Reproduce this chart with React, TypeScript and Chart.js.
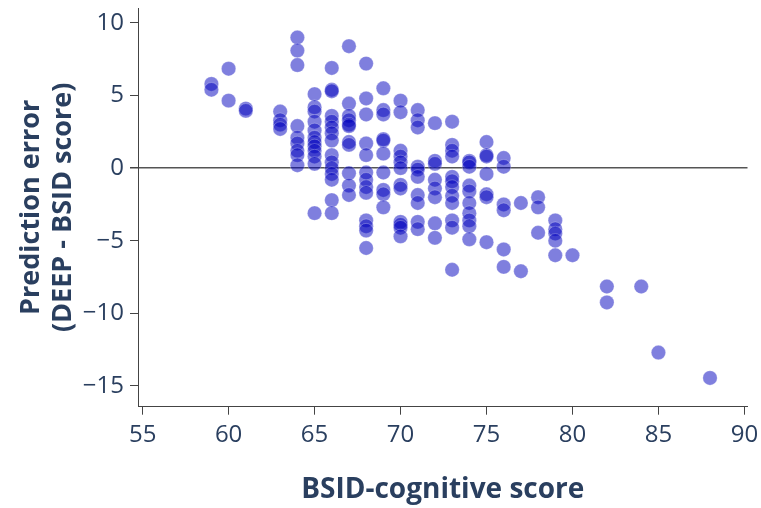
import React, { useEffect, useRef } from "react";
import { Chart, registerables } from "chart.js";

Chart.register(...registerables);

// BSID-cognitive score (x) and prediction error (y), one entry per point
const bsidScores: number[] = [
  59, 59,
  60, 60,
  61, 61,
  63, 63, 63, 63,
  64, 64, 64, 64, 64, 64, 64, 64, 64,
  65, 65, 65, 65, 65, 65, 65, 65, 65, 65, 65, 65,
  66, 66, 66, 66, 66, 66, 66, 66, 66, 66, 66, 66, 66, 66, 66,
  67, 67, 67, 67, 67, 67, 67, 67, 67, 67, 67,
  68, 68, 68, 68, 68, 68, 68, 68, 68, 68, 68, 68, 68,
  69, 69, 69, 69, 69, 69, 69, 69, 69, 69,
  70, 70, 70, 70, 70, 70, 70, 70, 70, 70, 70, 70,
  71, 71, 71, 71, 71, 71, 71, 71, 71, 71,
  72, 72, 72, 72, 72, 72, 72, 72,
  73, 73, 73, 73, 73, 73, 73, 73, 73, 73, 73, 73,
  74, 74, 74, 74, 74, 74, 74, 74, 74, 74,
  75, 75, 75, 75, 75, 75, 75,
  76, 76, 76, 76, 76, 76,
  77, 77,
  78, 78, 78,
  79, 79, 79, 79, 79,
  80,
  82, 82,
  84,
  85,
  88,
];

const predictionErrors: number[] = [
  5.8, 5.4,
  6.85, 4.65,
  4.1, 3.95,
  3.9, 3.3, 3.0, 2.7,
  9.0, 8.1, 7.1, 2.9, 2.1, 1.7, 1.2, 0.9, 0.2,
  5.1, 4.2, 3.9, 3.2, 2.6, 2.1, 1.8, 1.5, 1.2, 0.8, 0.3, -3.1,
  6.9, 5.4, 5.3, 3.6, 3.2, 2.8, 2.4, 1.9, 0.9, 0.4, 0.0, -0.4, -0.8, -2.2, -3.1,
  8.4, 4.45, 3.6, 3.3, 3.0, 2.9, 1.8, 1.6, -0.35, -1.2, -1.85,
  7.2, 4.8, 3.7, 1.7, 0.9, -0.3, -0.8, -1.3, -1.7, -3.6, -4.0, -4.3, -5.5,
  5.5, 4.0, 3.7, 2.0, 1.9, 1.0, -0.3, -1.5, -1.8, -2.7,
  4.65, 3.85, 1.2, 0.8, 0.4, 0.0, -1.15, -1.4, -3.7, -3.9, -4.1, -4.7,
  4.0, 3.3, 2.8, 0.1, -0.1, -0.6, -1.85, -2.4, -3.7, -4.2,
  3.1, 0.5, 0.3, -0.8, -1.4, -2.0, -3.8, -4.8,
  3.2, 1.6, 1.2, 0.8, -0.6, -0.9, -1.3, -1.9, -2.4, -3.6, -4.1, -7.0,
  0.5, 0.4, 0.1, -1.2, -1.6, -2.4, -3.1, -3.6, -4.0, -4.9,
  1.8, 0.9, 0.8, -0.4, -1.8, -2.0, -5.1,
  0.7, 0.1, -2.5, -2.9, -5.6, -6.8,
  -2.4, -7.1,
  -2.0, -2.7, -4.45,
  -3.6, -4.2, -4.5, -5.0, -6.0,
  -6.0,
  -8.15, -9.25,
  -8.15,
  -12.7,
  -14.45,
];

const xTickValues: number[] = [55, 60, 65, 70, 75, 80, 85, 90];
const yTickValues: number[] = [-15, -10, -5, 0, 5, 10];

const xTitle = "BSID-cognitive score";
const yTitle = ["Prediction error", "(DEEP - BSID score)"];

const TEXT_COLOR = "#2a3f5f";
const FONT = "'Open Sans', 'Noto Sans', sans-serif";

export default function App() {
  const canvasRef = useRef<HTMLCanvasElement | null>(null);

  useEffect(() => {
    const canvas = canvasRef.current;
    if (!canvas) return;
    const points = bsidScores.map((x, i) => ({ x, y: predictionErrors[i] }));
    const chart = new Chart(canvas, {
      type: "scatter",
      data: {
        datasets: [
          {
            data: points,
            backgroundColor: "rgba(0, 0, 190, 0.5)",
            borderColor: "rgba(255, 255, 255, 0.5)",
            borderWidth: 0.5,
            pointRadius: 7.2,
            pointHoverRadius: 7.2,
          },
        ],
      },
      options: {
        responsive: false,
        animation: false,
        layout: { padding: { top: 8, right: 13.5, left: 0, bottom: 0 } },
        plugins: {
          legend: { display: false },
          tooltip: { enabled: false },
        },
        scales: {
          x: {
            type: "linear",
            min: 54.73,
            max: 90.18,
            afterBuildTicks: (scale: any) => {
              scale.ticks = xTickValues.map((v) => ({ value: v }));
            },
            afterFit: (scale: any) => {
              scale.height = 101.3;
              scale.paddingLeft = 0;
              scale.paddingRight = 0;
            },
            border: { display: true, color: "#444", width: 1 },
            grid: {
              drawOnChartArea: false,
              drawTicks: true,
              tickLength: 8,
              tickColor: "#444",
            },
            ticks: {
              color: TEXT_COLOR,
              font: { family: FONT, size: 24, lineHeight: 0.7 },
              padding: 12,
              maxRotation: 0,
              autoSkip: false,
            },
            title: {
              display: true,
              text: xTitle,
              color: TEXT_COLOR,
              font: { family: FONT, size: 28, weight: "bold", lineHeight: 1.2 },
              padding: { top: 0, bottom: 1 },
            },
          },
          y: {
            type: "linear",
            min: -16.43,
            max: 11.03,
            afterBuildTicks: (scale: any) => {
              scale.ticks = yTickValues.map((v) => ({ value: v }));
            },
            afterFit: (scale: any) => {
              scale.width = 138;
              scale.paddingTop = 0;
              scale.paddingBottom = 0;
            },
            border: { display: true, color: "#444", width: 1 },
            grid: {
              drawOnChartArea: true,
              drawTicks: true,
              tickLength: 8,
              tickColor: "#444",
              color: (ctx: any) =>
                ctx.tick && ctx.tick.value === 0 ? "#555" : "rgba(0,0,0,0)",
              lineWidth: (ctx: any) => (ctx.tick && ctx.tick.value === 0 ? 1.5 : 1),
            },
            ticks: {
              color: TEXT_COLOR,
              font: { family: FONT, size: 24, lineHeight: 0.6 },
              padding: 6,
              autoSkip: false,
              callback: (v: any) => (Number(v) < 0 ? "\u2212" + Math.abs(Number(v)) : String(v)),
            },
            title: {
              display: true,
              text: yTitle,
              color: TEXT_COLOR,
              font: { family: FONT, size: 27, weight: "bold", lineHeight: 1.2 },
              padding: { top: 15, bottom: 0 },
            },
          },
        },
      },
    });
    return () => chart.destroy();
  }, []);

  return (
    <div style={{ position: "fixed", left: 0, top: 0, width: 761, height: 508, background: "#fff" }}>
      <canvas ref={canvasRef} width={761} height={508} style={{ width: 761, height: 508, display: "block" }} />
    </div>
  );
}
